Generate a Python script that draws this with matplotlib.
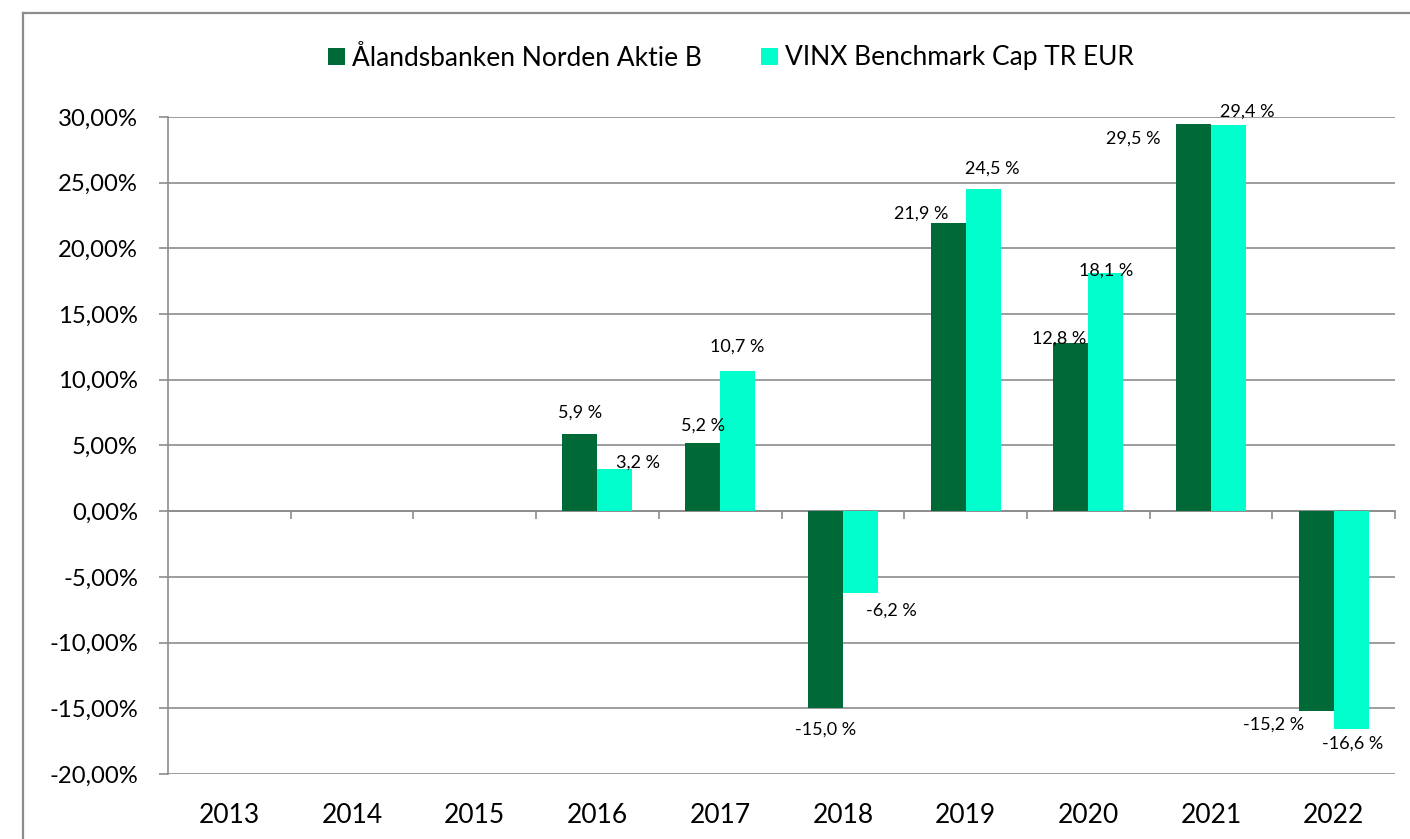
import numpy as np
import matplotlib
matplotlib.use("Agg")
import matplotlib.pyplot as plt
from matplotlib.lines import Line2D
from matplotlib.patches import Patch

# ---- data ----
years = ["2013", "2014", "2015", "2016", "2017", "2018", "2019", "2020", "2021", "2022"]
series_names = ["Ålandsbanken Norden Aktie B", "VINX Benchmark Cap TR EUR"]
fund = [np.nan, np.nan, np.nan, 5.9, 5.2, -15.0, 21.9, 12.8, 29.5, -15.2]
bench = [np.nan, np.nan, np.nan, 3.2, 10.7, -6.2, 24.5, 18.1, 29.4, -16.6]
y_ticks = [-20, -15, -10, -5, 0, 5, 10, 15, 20, 25, 30]

# label offsets (pixels, relative to bar end) - styling only
fund_off = [(0, 0), (0, 0), (0, 0), (0, 21), (0, 17), (0, -21), (-27, 10), (-12, 4), (-60, -15), (-43, -14)]
bench_off = [(0, 0), (0, 0), (0, 0), (23, 7), (0, 24), (31, -18), (9, 21), (0, 3), (19, 13), (1, -14)]

C_DARK = "#006938"
C_CYAN = "#00FFCC"
GRID = "#8c8c8c"
FONT = "Lato"

W, H, DPI = 1410, 839, 100
fig = plt.figure(figsize=(W / DPI, H / DPI), dpi=DPI)
fig.patch.set_facecolor("white")

left, right, top, bottom = 168, 1395, 117, 774
ax = fig.add_axes([left / W, 1 - bottom / H, (right - left) / W, (bottom - top) / H])

n = len(years)
x = np.arange(n) + 0.5
bw = 0.285
ax.bar(x - bw / 2, fund, width=bw, color=C_DARK, zorder=3)
ax.bar(x + bw / 2, bench, width=bw, color=C_CYAN, zorder=3)

px2pt = 72 / DPI
for i in range(n):
    for vals, offs, xc in ((fund, fund_off, x[i] - bw / 2), (bench, bench_off, x[i] + bw / 2)):
        v = vals[i]
        if np.isnan(v):
            continue
        dx, dy = offs[i]
        ax.annotate(f"{v:.1f} %".replace(".", ","), xy=(xc, v),
                    xytext=(dx * px2pt, dy * px2pt), textcoords="offset points",
                    ha="center", va="center", fontsize=13, family=FONT,
                    color="black", zorder=5)

ax.set_xlim(0, n)
ax.set_ylim(y_ticks[0], y_ticks[-1])
ax.set_yticks(y_ticks)
ax.set_yticklabels([f"{t:.2f}%".replace(".", ",") for t in y_ticks], family=FONT, fontsize=17.2)
ax.tick_params(axis="y", length=6.5, width=1.2, color=GRID, pad=15)
ax.yaxis.grid(True, color=GRID, linewidth=1.2, zorder=0)

# category labels at bottom
ax.set_xticks(x)
ax.set_xticklabels(years, family=FONT, fontsize=19)
ax.tick_params(axis="x", length=0, pad=21)

# boundary ticks on the zero axis
sec = ax.secondary_xaxis((0 - y_ticks[0]) / (y_ticks[-1] - y_ticks[0]))
sec.set_xticks(np.arange(1, n + 1))
sec.set_xticklabels([""] * n)
sec.tick_params(axis="x", length=6, width=1.2, color=GRID, direction="out")
sec.spines["bottom"].set_color(GRID)
sec.spines["bottom"].set_linewidth(1.2)

for s in ["top", "right", "bottom"]:
    ax.spines[s].set_visible(False)
ax.spines["left"].set_color(GRID)
ax.spines["left"].set_linewidth(1.2)

# outer border (left and top visible)
fig.add_artist(Line2D([23 / W, 23 / W], [0, 1 - 13 / H], color=GRID, lw=1.6, transform=fig.transFigure))
fig.add_artist(Line2D([23 / W, 1], [1 - 13 / H, 1 - 13 / H], color=GRID, lw=1.6, transform=fig.transFigure))

handles = [Patch(facecolor=C_DARK), Patch(facecolor=C_CYAN)]
fig.legend(handles, series_names, loc="center", bbox_to_anchor=(731 / W, 1 - 58 / H),
           ncol=2, frameon=False, prop={"family": FONT, "size": 19},
           handlelength=0.64, handleheight=0.64, handletextpad=0.26, columnspacing=2.25,
           borderaxespad=0, borderpad=0)

fig.savefig("out.png", dpi=DPI)
